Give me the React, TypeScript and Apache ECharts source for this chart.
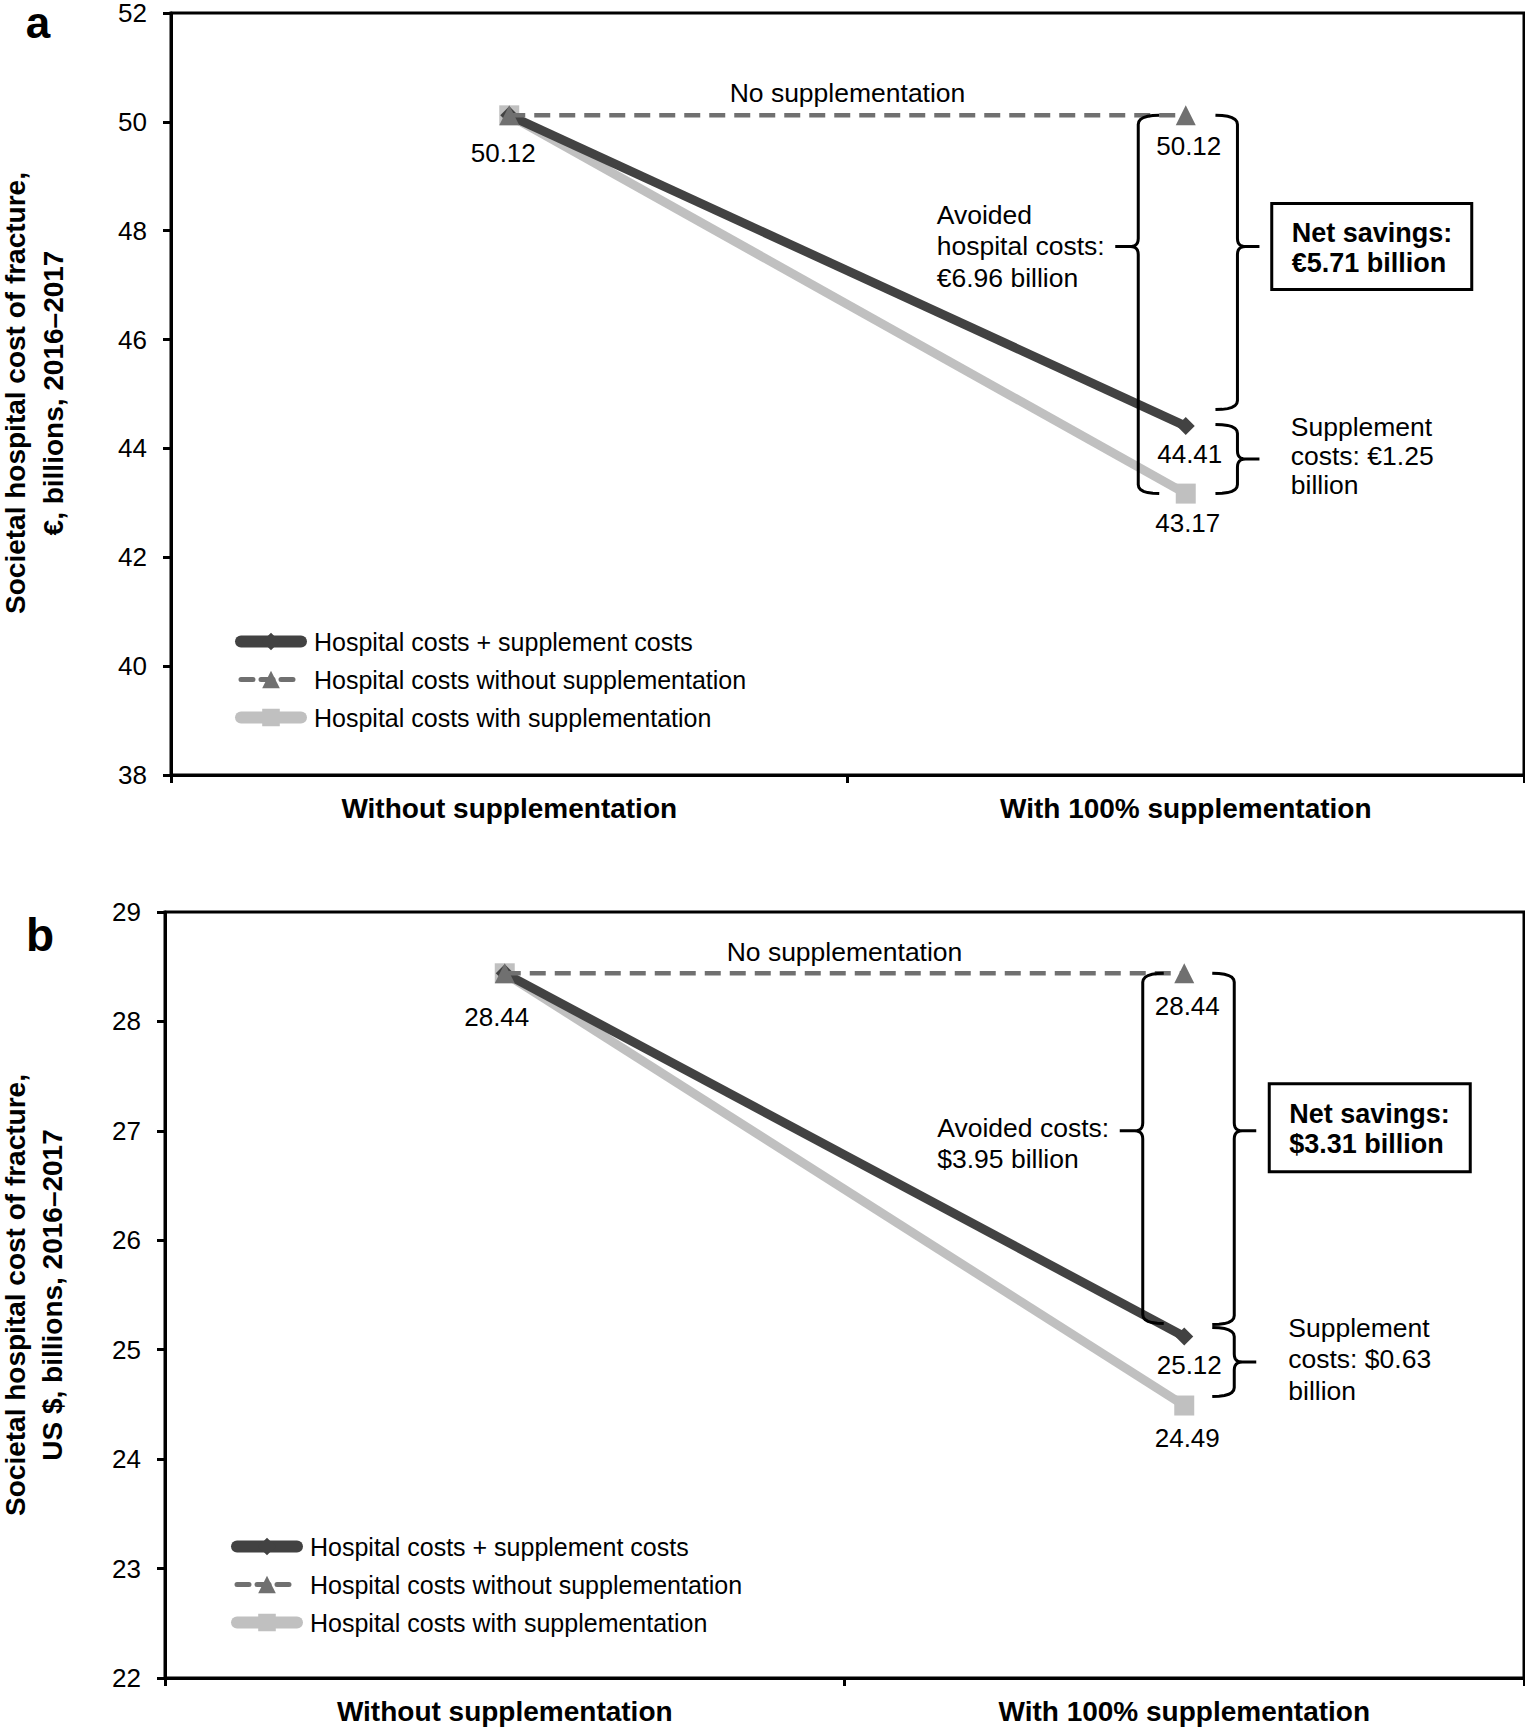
import React, { useEffect, useRef } from "react";
import * as echarts from "echarts";

// ---------------- data ----------------
const CATEGORIES = ["Without supplementation", "With 100% supplementation"];
const SERIES_NAMES = [
  "Hospital costs + supplement costs",
  "Hospital costs without supplementation",
  "Hospital costs with supplementation",
];
// Panel a (€ billions)
const A_COMBINED = [50.12, 44.41];
const A_WITHOUT = [50.12, 50.12];
const A_WITH = [50.12, 43.17];
const A_Y = { min: 38, max: 52, interval: 2 };
// Panel b (US $ billions)
const B_COMBINED = [28.44, 25.12];
const B_WITHOUT = [28.44, 28.44];
const B_WITH = [28.44, 24.49];
const B_Y = { min: 22, max: 29, interval: 1 };

// annotation texts
const A_AVOIDED = "Avoided\nhospital costs:\n€6.96 billion";
const A_NET = "Net savings:\n€5.71 billion";
const A_SUPP = "Supplement\ncosts: €1.25\nbillion";
const B_AVOIDED = "Avoided costs:\n$3.95 billion";
const B_NET = "Net savings:\n$3.31 billion";
const B_SUPP = "Supplement\ncosts: $0.63\nbillion";
const NO_SUPP = "No supplementation";
const A_YTITLE = ["Societal hospital cost of fracture,", "€, billions, 2016–2017"];
const B_YTITLE = ["Societal hospital cost of fracture,", "US $, billions, 2016–2017"];
// brace tip levels (value units)
const A_TIP = 47.71;
const B_TIP = 27.0;

// ---------------- styles ----------------
const FONT = '"Liberation Sans", Arial, Helvetica, sans-serif';
const DARK = "#424242";
const MID = "#707070";
const LIGHT = "#c0c0c0";

function labelCfg(distance: number, dx: number) {
  return {
    show: true,
    position: "bottom",
    distance,
    offset: [dx, 0],
    color: "#000",
    fontSize: 26,
    fontFamily: FONT,
    formatter: (p: any) => Number(p.value).toFixed(2),
  };
}

function makeSeries(
  gi: number,
  combined: number[],
  without: number[],
  withS: number[],
  lab: any
) {
  const mk = (vals: number[], labels: any[]) =>
    vals.map((v, i) => (labels[i] ? { value: v, label: labels[i] } : { value: v }));
  return [
    {
      name: SERIES_NAMES[2],
      type: "line",
      xAxisIndex: gi,
      yAxisIndex: gi,
      data: mk(withS, [null, lab.with]),
      symbol: "rect",
      symbolSize: 20,
      lineStyle: { color: LIGHT, width: 9 },
      itemStyle: { color: LIGHT },
      z: 2,
      emphasis: { disabled: true },
    },
    {
      name: SERIES_NAMES[0],
      type: "line",
      xAxisIndex: gi,
      yAxisIndex: gi,
      data: mk(combined, [null, lab.combined]),
      symbol: "diamond",
      symbolSize: 18,
      lineStyle: { color: DARK, width: 9 },
      itemStyle: { color: DARK },
      z: 3,
      emphasis: { disabled: true },
    },
    {
      name: SERIES_NAMES[1],
      type: "line",
      xAxisIndex: gi,
      yAxisIndex: gi,
      data: mk(without, [lab.withoutLeft, lab.withoutRight]),
      symbol: "triangle",
      symbolSize: 20,
      lineStyle: { color: MID, width: 4.5, type: [16, 9] },
      itemStyle: { color: MID },
      z: 4,
      emphasis: { disabled: true },
    },
  ];
}

function axisX(gi: number) {
  return {
    type: "category",
    gridIndex: gi,
    data: CATEGORIES,
    boundaryGap: true,
    axisLine: { show: true, lineStyle: { color: "#000", width: 3 } },
    axisTick: { show: true, length: 8, interval: 0, lineStyle: { color: "#000", width: 3 } },
    axisLabel: {
      interval: 0,
      margin: 19,
      color: "#000",
      fontSize: 28,
      fontWeight: "bold",
      fontFamily: FONT,
    },
    splitLine: { show: false },
  };
}

function axisY(gi: number, cfg: any) {
  return {
    type: "value",
    gridIndex: gi,
    min: cfg.min,
    max: cfg.max,
    interval: cfg.interval,
    axisLine: { show: true, lineStyle: { color: "#000", width: 3 } },
    axisTick: { show: true, length: 8, lineStyle: { color: "#000", width: 3 } },
    axisLabel: { margin: 24, color: "#000", fontSize: 26, lineHeight: 20, fontFamily: FONT },
    splitLine: { show: false },
  };
}

function legendCfg(left: number, top: number) {
  return {
    orient: "vertical",
    left,
    top,
    itemWidth: 60,
    itemHeight: 22,
    itemGap: 13,
    selectedMode: false,
    textStyle: { color: "#000", fontSize: 25, lineHeight: 25, fontFamily: FONT, padding: [0, 0, 0, 8] },
    data: [
      { name: SERIES_NAMES[0], lineStyle: { width: 12, cap: "round" } },
      { name: SERIES_NAMES[1], lineStyle: { width: 5, type: [12, 8], cap: "round" } },
      { name: SERIES_NAMES[2], lineStyle: { width: 12, cap: "round" } },
    ],
  };
}

// -------- helpers for drawn annotations --------
function quad(p0: number[], c: number[], p1: number[], n = 6) {
  const out: number[][] = [];
  for (let i = 0; i <= n; i++) {
    const t = i / n;
    const a = (1 - t) * (1 - t);
    const b = 2 * (1 - t) * t;
    const d = t * t;
    out.push([a * p0[0] + b * c[0] + d * p1[0], a * p0[1] + b * c[1] + d * p1[1]]);
  }
  return out;
}

// dir = -1 : tip points left "{" ; dir = +1 : tip points right "}"
function brace(x: number, y1: number, y2: number, yt: number, dir: number, h: number, t: number) {
  const r = 9;
  const rt = 8;
  const pts: number[][] = [];
  pts.push(...quad([x - dir * h, y1], [x, y1], [x, y1 + r]));
  pts.push(...quad([x, yt - rt], [x, yt], [x + dir * rt, yt]));
  pts.push([x + dir * t, yt]);
  pts.push(...quad([x + dir * rt, yt], [x, yt], [x, yt + rt]));
  pts.push(...quad([x, y2 - r], [x, y2], [x - dir * h, y2]));
  return {
    type: "polyline",
    shape: { points: pts },
    style: { stroke: "#000", lineWidth: 3, fill: null },
    z: 10,
  };
}

function txt(x: number, y: number, text: string, opts: any = {}) {
  const align = opts.align || "left";
  const va = opts.verticalAlign || "middle";
  return {
    type: "text",
    x,
    y,
    rotation: opts.rotation || 0,
    z: 11,
    style: {
      text,
      fill: "#000",
      fontSize: opts.fontSize || 26.5,
      fontWeight: opts.bold ? "bold" : "normal",
      fontFamily: FONT,
      lineHeight: opts.lineHeight || 30,
      align,
      verticalAlign: va,
      textAlign: align,
      textVerticalAlign: va,
    },
  };
}

function buildGraphics(chart: any) {
  const px = (gi: number, cat: number, v: number) =>
    chart.convertToPixel({ gridIndex: gi }, [CATEGORIES[cat], v]);
  const g: any[] = [];

  // ---- panel a ----
  {
    const P = px(0, 1, A_WITHOUT[1])[0];
    const L = px(0, 0, A_WITHOUT[0])[0];
    const yv = (v: number) => px(0, 1, v)[1];
    const yTop = yv(A_WITHOUT[1]);
    const yBot = yv(A_WITH[1]);
    const yComb = yv(A_COMBINED[1]);
    const yTip = yv(A_TIP);
    const ls = P - 47.5;
    const rs = P + 51.7;
    g.push(brace(ls, yTop, yBot, yTip, -1, 21, 23));
    g.push(brace(rs, yTop, yComb - 16.5, yTip, 1, 22, 22));
    const sTop = yComb - 1.7;
    const sTip = (sTop + yBot) / 2;
    g.push(brace(rs, sTop, yBot, sTip, 1, 22, 22));
    g.push(txt(P - 249, yTip, A_AVOIDED, { lineHeight: 31.5 }));
    g.push({
      type: "rect",
      shape: { x: P + 86, y: yTip - 43, width: 200, height: 86 },
      style: { fill: "#fff", stroke: "#000", lineWidth: 3 },
      z: 10,
    });
    g.push(txt(P + 106, yTip + 2, A_NET, { bold: true, fontSize: 27, lineHeight: 30 }));
    g.push(txt(P + 105, sTip - 3, A_SUPP, { lineHeight: 29 }));
    g.push(txt((L + P) / 2, yTop - 22, NO_SUPP, { align: "center" }));
  }

  // ---- panel b ----
  {
    const P = px(1, 1, B_WITHOUT[1])[0];
    const L = px(1, 0, B_WITHOUT[0])[0];
    const yv = (v: number) => px(1, 1, v)[1];
    const yTop = yv(B_WITHOUT[1]);
    const yComb = yv(B_COMBINED[1]);
    const yWith = yv(B_WITH[1]);
    const yTip = yv(B_TIP);
    const ls = P - 41.5;
    const rs = P + 50;
    g.push(brace(ls, yTop, yComb - 13, yTip, -1, 21, 23));
    g.push(brace(rs, yTop, yComb - 12, yTip, 1, 22, 22));
    const sTop = yComb - 9;
    const sBot = yWith - 9;
    const sTip = (sTop + sBot) / 2;
    g.push(brace(rs, sTop, sBot, sTip, 1, 22, 22));
    g.push(txt(P - 247, yTip - 18, B_AVOIDED, { verticalAlign: "top", lineHeight: 31 }));
    g.push({
      type: "rect",
      shape: { x: P + 85, y: yTip - 47, width: 201, height: 88 },
      style: { fill: "#fff", stroke: "#000", lineWidth: 3 },
      z: 10,
    });
    g.push(txt(P + 105, yTip - 2, B_NET, { bold: true, fontSize: 27, lineHeight: 30 }));
    g.push(txt(P + 104, sTip - 3, B_SUPP, { lineHeight: 31.5 }));
    g.push(txt((L + P) / 2, yTop - 21, NO_SUPP, { align: "center" }));
  }

  // ---- y-axis titles (rotated, two lines) and panel letters ----
  const titleOpts = { bold: true, fontSize: 28, lineHeight: 28, align: "center", rotation: Math.PI / 2 };
  g.push(txt(15, 393, A_YTITLE[0], titleOpts));
  g.push(txt(53, 393, A_YTITLE[1], titleOpts));
  g.push(txt(15, 1295, B_YTITLE[0], titleOpts));
  g.push(txt(52, 1295, B_YTITLE[1], titleOpts));
  g.push(txt(38, 22, "a", { bold: true, fontSize: 44, align: "center", lineHeight: 30 }));
  g.push(txt(40, 935, "b", { bold: true, fontSize: 46, align: "center", lineHeight: 30 }));
  return g;
}

export default function App() {
  const ref = useRef<HTMLDivElement>(null);
  useEffect(() => {
    if (!ref.current) return;
    const chart = echarts.init(ref.current, null, { renderer: "svg" });
    const option: any = {
      animation: false,
      backgroundColor: "#fff",
      textStyle: { fontFamily: FONT },
      grid: [
        { left: 171, top: 11, width: 1353, height: 764, show: true, borderColor: "#000", borderWidth: 3, backgroundColor: "transparent" },
        { left: 165, top: 912, width: 1359, height: 766, show: true, borderColor: "#000", borderWidth: 3, backgroundColor: "transparent" },
      ],
      xAxis: [axisX(0), axisX(1)],
      yAxis: [axisY(0, A_Y), axisY(1, B_Y)],
      legend: [legendCfg(230, 624), legendCfg(226, 1529)],
      series: [
        ...makeSeries(0, A_COMBINED, A_WITHOUT, A_WITH, {
          withoutLeft: labelCfg(15, -6),
          withoutRight: labelCfg(8, 3),
          combined: labelCfg(6, 4),
          with: labelCfg(6, 2),
        }),
        ...makeSeries(1, B_COMBINED, B_WITHOUT, B_WITH, {
          withoutLeft: labelCfg(21, -8),
          withoutRight: labelCfg(10, 3),
          combined: labelCfg(6, 5),
          with: labelCfg(9, 3),
        }),
      ],
    };
    chart.setOption(option);
    chart.setOption({ graphic: buildGraphics(chart) });
    return () => chart.dispose();
  }, []);
  return (
    <div
      ref={ref}
      style={{ position: "absolute", left: 0, top: 0, width: 1525, height: 1728, background: "#fff" }}
    />
  );
}
